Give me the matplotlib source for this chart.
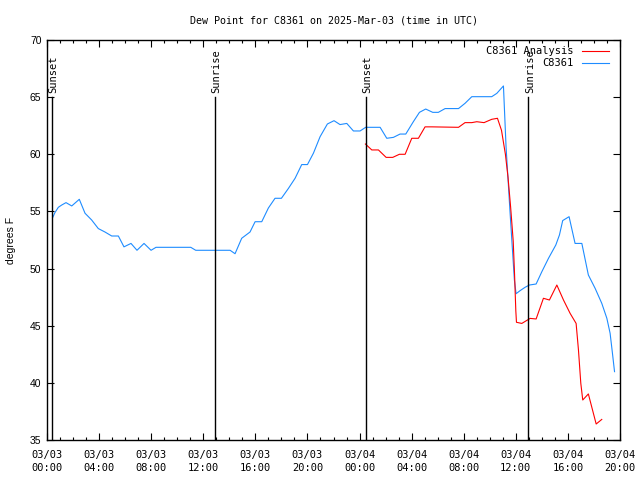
import matplotlib
matplotlib.use("Agg")
import matplotlib.pyplot as plt
from matplotlib.ticker import MultipleLocator, FixedLocator

# hours since 2025-03-03 00:00 UTC
obs_hours = [0.45, 0.61, 0.87, 1.13, 1.46, 1.9, 2.48, 2.92, 3.43, 3.94, 4.45, 4.97,
             5.48, 5.91, 6.45, 6.91, 7.45, 7.99, 8.37, 11.04, 11.42, 14.06, 14.44,
             14.95, 15.59, 15.98, 16.49, 17.0, 17.51, 18.0, 18.53, 19.05, 19.56, 20.0,
             20.46, 20.97, 21.53, 22.04, 22.5, 23.02, 23.53, 24.04, 24.47, 25.58,
             26.09, 26.6, 27.11, 27.55, 28.13, 28.6, 29.08, 29.62, 30.05, 30.57,
             31.6, 32.1, 32.62, 34.15, 34.54, 35.05, 35.25, 35.56, 35.89, 36.02,
             36.33, 36.71, 37.04, 37.56, 38.0, 38.51, 39.07, 39.35, 39.6, 40.09,
             40.55, 41.07, 41.57, 42.09, 42.6, 42.99, 43.24, 43.42, 43.58]
obs_dewpt = [54.5, 54.9, 55.36, 55.56, 55.77, 55.48, 56.06, 54.84, 54.25, 53.5, 53.2,
             52.85, 52.85, 51.9, 52.2, 51.6, 52.2, 51.6, 51.86, 51.86, 51.6, 51.6,
             51.3, 52.65, 53.2, 54.1, 54.1, 55.3, 56.15, 56.15, 57.0, 57.9, 59.1,
             59.1, 60.1, 61.54, 62.65, 62.94, 62.6, 62.7, 62.04, 62.04, 62.36, 62.36,
             61.4, 61.48, 61.77, 61.77, 62.85, 63.67, 63.96, 63.67, 63.67, 64.0,
             64.0, 64.46, 65.04, 65.04, 65.33, 65.98, 60.66, 54.86, 49.0, 47.8,
             48.07, 48.36, 48.56, 48.65, 49.73, 50.9, 52.06, 52.94, 54.2, 54.54,
             52.2, 52.2, 49.44, 48.27, 46.96, 45.65, 44.34, 42.59, 40.98]

ana_hours = [24.45, 24.94, 25.45, 26.04, 26.55, 27.06, 27.5, 28.01, 28.52, 29.03,
             29.55, 31.6, 32.1, 32.62, 33.0, 33.56, 34.15, 34.59, 34.9, 35.2, 35.4,
             35.6, 35.8, 35.9, 36.0, 36.05, 36.46, 37.1, 37.56, 38.12, 38.58, 39.15,
             39.66, 40.17, 40.63, 40.81, 40.99, 41.14, 41.57, 42.17, 42.6]
ana_dewpt = [60.9, 60.38, 60.38, 59.73, 59.73, 60.0, 60.0, 61.4, 61.4, 62.4, 62.4,
             62.36, 62.77, 62.77, 62.85, 62.77, 63.06, 63.15, 62.1, 60.0, 58.0, 55.4,
             52.4, 49.6, 46.3, 45.3, 45.2, 45.64, 45.59, 47.4, 47.25, 48.56, 47.25,
             46.08, 45.2, 42.88, 39.96, 38.5, 39.03, 36.4, 36.8]

sun_hours = [0.36, 12.9, 24.47, 36.97]
sun_names = ["Sunset", "Sunrise", "Sunset", "Sunrise"]

tick_hours = [0, 4, 8, 12, 16, 20, 24, 28, 32, 36, 40, 44]
tick_labels = ["03/03\n00:00", "03/03\n04:00", "03/03\n08:00", "03/03\n12:00",
               "03/03\n16:00", "03/03\n20:00", "03/04\n00:00", "03/04\n04:00",
               "03/04\n08:00", "03/04\n12:00", "03/04\n16:00", "03/04\n20:00"]

mono = "DejaVu Sans Mono"

fig = plt.figure(figsize=(6.4, 4.8), dpi=100)
ax = fig.add_axes([47 / 640, 40 / 480, 573 / 640, 400 / 480])

line_obs, = ax.plot(obs_hours, obs_dewpt, color="#1e8cff", lw=0.8, label="C8361")
line_ana, = ax.plot(ana_hours, ana_dewpt, color="#ff0000", lw=0.8, label="C8361 Analysis")

for h, name in zip(sun_hours, sun_names):
    ax.plot([h, h], [35, 65], color="black", lw=1.0)
    ax.text(h + 0.1, 65.4, name, rotation=90, ha="center", va="bottom",
            family=mono, fontsize=7.5)

ax.set_xlim(0, 44)
ax.set_ylim(35, 70)
ax.xaxis.set_major_locator(FixedLocator(tick_hours))
ax.set_xticklabels(tick_labels, family=mono, fontsize=7.5, linespacing=1.35)
ax.xaxis.set_minor_locator(MultipleLocator(1))
ax.yaxis.set_major_locator(MultipleLocator(5))
for lab in ax.get_yticklabels():
    lab.set_family("Liberation Sans")
    lab.set_fontsize(7.5)
ax.tick_params(which="both", direction="in", top=True, right=True, width=0.8)
ax.tick_params(which="major", length=5, pad=4)
ax.tick_params(axis="x", which="major", pad=7)
ax.tick_params(which="minor", length=2.5)
for s in ax.spines.values():
    s.set_linewidth(1.0)

ax.set_ylabel("degrees F", family="Liberation Sans", fontsize=7.5, labelpad=10)
ax.set_title("Dew Point for C8361 on 2025-Mar-03 (time in UTC)", family=mono,
             fontsize=7.2, pad=12)

leg = ax.legend([line_ana, line_obs], ["C8361 Analysis", "C8361"], loc="upper right",
                bbox_to_anchor=(1 - 5 / 573, 1),
                frameon=False, prop={"family": mono, "size": 7.5}, markerfirst=False,
                handlelength=2.6, borderaxespad=0.2, labelspacing=0.2,
                handletextpad=0.8)

fig.savefig("out.png", dpi=100)
